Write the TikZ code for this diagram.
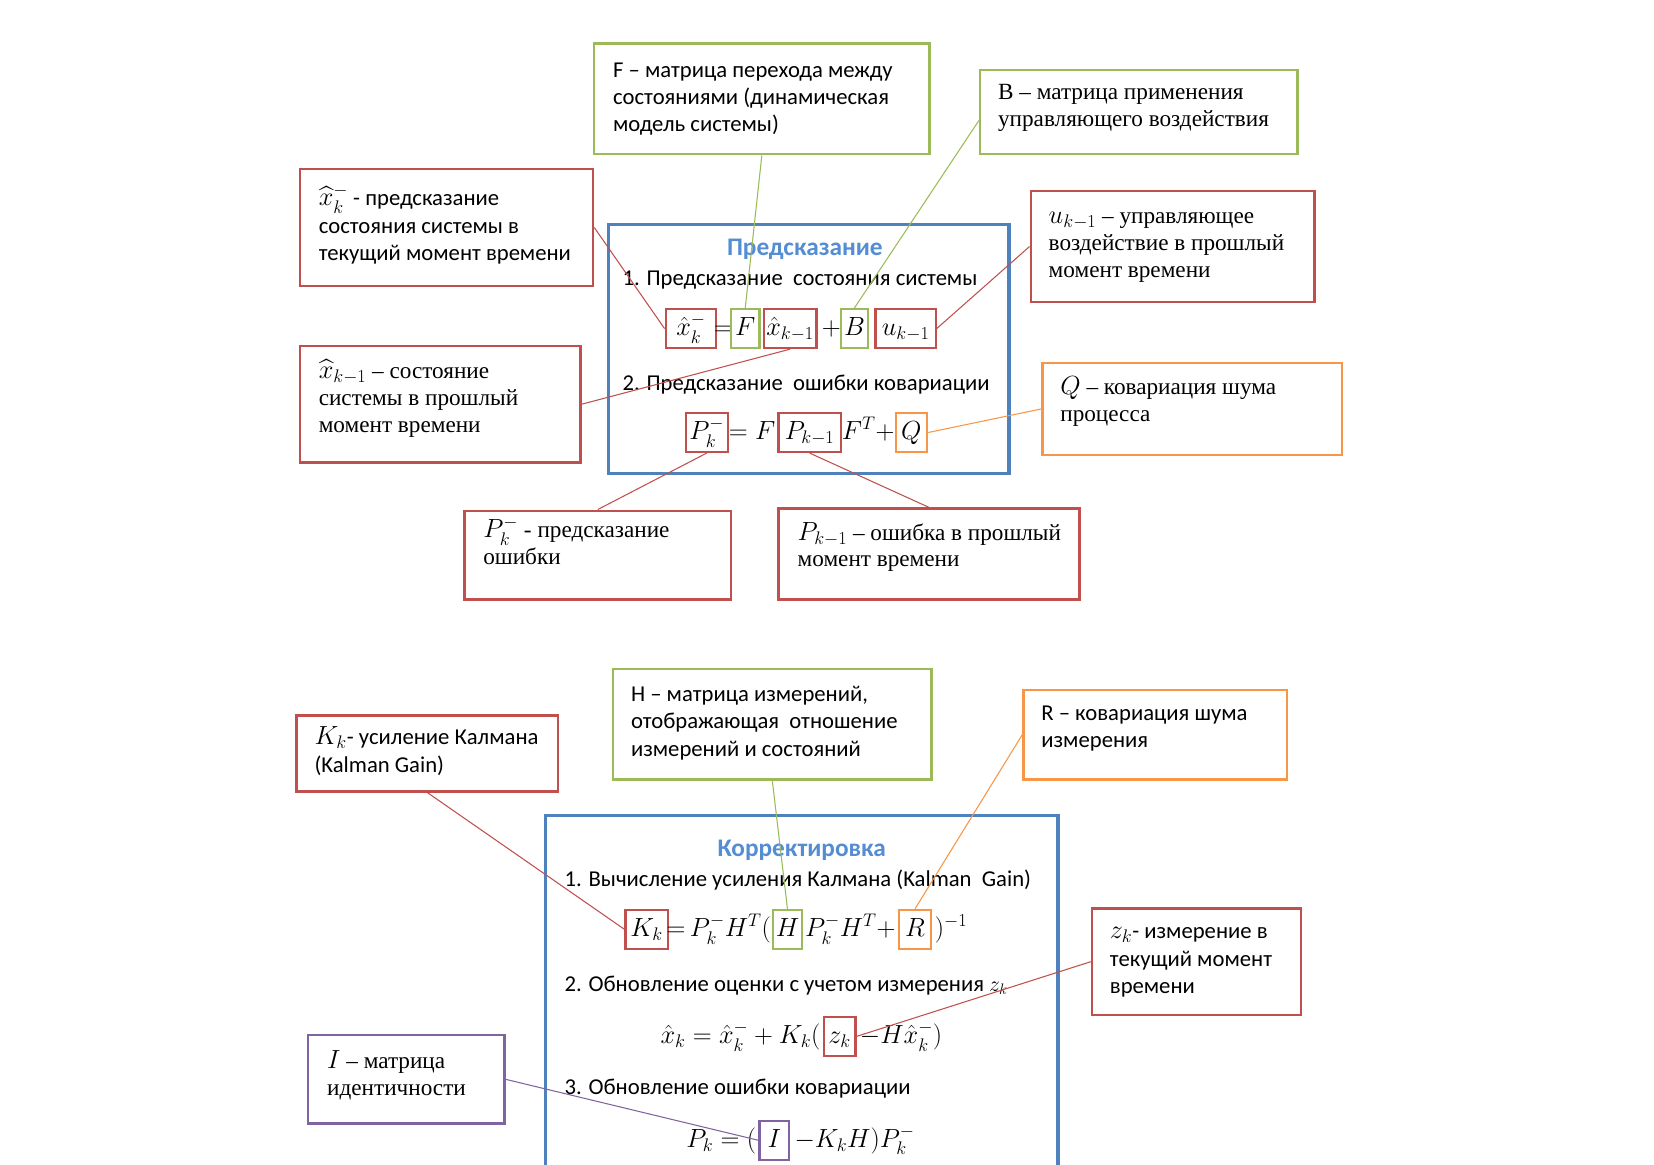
\documentclass[tikz,border=0pt]{standalone}
\usepackage{fontspec}
\setmainfont{Liberation Serif}
\setsansfont{Carlito}
\usepackage{amsmath}
\definecolor{kred}{RGB}{192,80,77}
\definecolor{kgreen}{RGB}{155,187,89}
\definecolor{kblue}{RGB}{79,129,189}
\definecolor{korange}{RGB}{247,150,70}
\definecolor{kpurple}{RGB}{128,100,162}
\definecolor{ktitle}{RGB}{84,141,212}
\newcommand\lblmath[1]{{\fontsize{24}{26}\selectfont$#1$}}
\tikzset{
  lbox/.style={draw=#1, line width=2.4pt, fill=white, inner sep=0pt, anchor=north west},
  mainbox/.style={draw=kblue, line width=3.2pt},
  epart/.style={inner sep=0pt, text height=25pt, text depth=12pt, font=\fontsize{24}{28}\selectfont},
  ebox/.style={epart, draw=#1, line width=2pt},
  conn/.style={draw=#1, line width=1pt},
  sanstxt/.style={anchor=base west, align=left, inner sep=0pt, font=\sffamily\fontsize{21.5}{26}\selectfont},
  seriftxt/.style={anchor=base west, align=left, inner sep=0pt, font=\rmfamily\fontsize{22}{25.5}\selectfont},
  ttl/.style={inner sep=0pt, font=\sffamily\bfseries\fontsize{24}{28}\selectfont, text=ktitle},
}
\begin{document}
\begin{tikzpicture}[x=1pt,y=-1pt]
\useasboundingbox (0,0) rectangle (1568,1104);
\fill[white] (0,0) rectangle (1568,1104);

% ---------- main boxes ----------
\node[mainbox, anchor=north west, minimum width=380pt, minimum height=236pt] (pred) at (575,211) {};
\draw[mainbox] (517,1112) -- (517,773) -- (1003,773) -- (1003,1112);

% ---------- texts inside main boxes ----------
\node[ttl] (tpred) at (763,236) {Предсказание};
\node[sanstxt] (s1) at (590,271) {1. Предсказание\ \ состояния системы};
\node[sanstxt] (s2) at (590,370) {2. Предсказание\ \ ошибки ковариации};
\node[ttl] (tcorr) at (760,806) {Корректировка};
\node[sanstxt] (c1) at (535,840) {1. Вычисление усиления Калмана (Kalman\ \ Gain)};
\node[sanstxt] (c2) at (535,940) {2. Обновление оценки с учетом измерения $z_k$};
\node[sanstxt] (c3) at (535,1038) {3. Обновление ошибки ковариации};

% ---------- equation 1 ----------
\node[ebox=kred, minimum width=48pt] (eXk) at (655,311.5) {$\hat{x}_k^-$};
\node[epart] (e1eq) at (686,311.5) {$=$};
\node[ebox=kgreen, minimum width=27pt] (eF) at (706.5,311.5) {$F$};
\node[ebox=kred, minimum width=50pt] (eXk1) at (749,311.5) {$\hat{x}_{k-1}$};
\node[epart] (e1pl) at (788,311.5) {$+$};
\node[ebox=kgreen, minimum width=26pt] (eB) at (810,311.5) {$B$};
\node[ebox=kred, minimum width=57pt] (eU) at (858.5,311.5) {$u_{k-1}$};

% ---------- equation 2 ----------
\node[ebox=kred, minimum width=40pt] (ePk) at (670,410) {$P_k^-$};
\node[epart] (e2a) at (713,410) {$=F$};
\node[ebox=kred, minimum width=59pt] (ePk1) at (767.5,410) {$P_{k-1}$};
\node[epart] (e2b) at (823,410) {$F^T+$};
\node[ebox=korange, minimum width=30pt] (eQ) at (864,410) {$Q$};

% ---------- equation 3 ----------
\node[ebox=kred, minimum width=40pt] (eK) at (613,881) {$K_k$};
\node[epart, anchor=east] (e3a) at (731,881) {${=}\,P_k^-H^T($};
\node[ebox=kgreen, minimum width=27pt] (eH) at (746.5,881) {$H$};
\node[epart, anchor=west] (e3b) at (763,881) {$P_k^-H^T+$};
\node[ebox=korange, minimum width=31pt] (eR) at (867.5,881) {$R$};
\node[epart, anchor=west] (e3c) at (886,881) {$)^{-1}$};

% ---------- equation 4 ----------
\node[epart, anchor=east] (e4a) at (778,982.5) {$\hat{x}_k=\hat{x}_k^-+K_k($};
\node[ebox=kred, minimum width=30pt] (eZ) at (796,982.5) {$z_k$};
\node[epart, anchor=west] (e4b) at (815,982.5) {$-H\hat{x}_k^-)$};

% ---------- equation 5 ----------
\node[epart, anchor=east] (e5a) at (717,1081) {$P_k=($};
\node[ebox=kpurple, minimum width=28pt] (eI) at (734,1081) {$I$};
\node[epart, anchor=west] (e5b) at (753,1081) {$-K_kH)P_k^-$};

% ---------- label boxes ----------
\node[lbox=kgreen, minimum width=318pt, minimum height=105pt] (lF) at (562,40) {};
\node[lbox=kgreen, minimum width=301pt, minimum height=80pt] (lB) at (928,65) {};
\node[lbox=kred, minimum width=278pt, minimum height=111pt] (lXk) at (283,159) {};
\node[lbox=kred, minimum width=269pt, minimum height=105pt] (lU) at (976,180) {};
\node[lbox=kred, minimum width=266pt, minimum height=110pt] (lXk1) at (283,327) {};
\node[lbox=korange, minimum width=284pt, minimum height=87pt] (lQ) at (987,343) {};
\node[lbox=kred, minimum width=253pt, minimum height=84pt] (lPk) at (439,483) {};
\node[lbox=kred, minimum width=285pt, minimum height=86pt] (lPk1) at (737,481) {};
\node[lbox=kgreen, minimum width=302pt, minimum height=105pt] (lH) at (580,633) {};
\node[lbox=korange, minimum width=250pt, minimum height=85pt] (lR) at (969,653) {};
\node[lbox=kred, minimum width=248pt, minimum height=72pt] (lK) at (280,677) {};
\node[lbox=kred, minimum width=198pt, minimum height=101pt] (lZ) at (1034,860) {};
\node[lbox=kpurple, minimum width=186pt, minimum height=84pt] (lI) at (291,980) {};

% ---------- label texts (anchor = baseline of the last line) ----------
\node[sanstxt] (tF) at (581,125) {F – матрица перехода между\\состояниями (динамическая\\модель системы)};
\node[seriftxt] (tB) at (946,119.5) {В – матрица применения\\управляющего воздействия};
\node[sanstxt] (tXk) at (302,247) {\lblmath{\widehat{x}_k^-} - предсказание\\состояния системы в\\текущий момент времени};
\node[seriftxt] (tU) at (994,263) {\lblmath{u_{k-1}} – управляющее\\воздействие в прошлый\\момент времени};
\node[seriftxt] (tXk1) at (302,410) {\lblmath{\widehat{x}_{k-1}} – состояние\\системы в прошлый\\момент времени};
\node[seriftxt] (tQ) at (1005,399.5) {\lblmath{Q} – ковариация шума\\процесса};
\node[seriftxt] (tPk) at (458,535.5) {\lblmath{P_k^-} - предсказание\\ошибки};
\node[seriftxt] (tPk1) at (756,537.5) {\lblmath{P_{k-1}} – ошибка в прошлый\\момент времени};
\node[sanstxt] (tH) at (598,717) {Н – матрица измерений,\\отображающая\ \ отношение\\измерений и состояний};
\node[sanstxt] (tR) at (987,709) {R – ковариация шума\\измерения};
\node[sanstxt] (tK) at (298,732) {\lblmath{K_k}- усиление Калмана\\(Kalman Gain)};
\node[sanstxt] (tZ) at (1052,942) {\lblmath{z_k}- измерение в\\текущий момент\\времени};
\node[seriftxt] (tI) at (310,1038.5) {\lblmath{I} – матрица\\идентичности};

% ---------- connectors ----------
\draw[conn=kred] (lXk.east) -- (eXk.west);
\draw[conn=kgreen] (lF.south) -- (eF.north);
\draw[conn=kgreen] ([yshift=-8pt]lB.west) -- (eB.north);
\draw[conn=kred] (lU.west) -- (eU.east);
\draw[conn=kred] (lXk1.east) -- (eXk1.south);
\draw[conn=korange] (lQ.west) -- (eQ.east);
\draw[conn=kred] (lPk.north) -- (ePk.south);
\draw[conn=kred] (lPk1.north) -- (ePk1.south);
\draw[conn=kred] (lK.south) -- (eK.west);
\draw[conn=kgreen] (lH.south) -- (eH.north);
\draw[conn=korange] (lR.west) -- (eR.north);
\draw[conn=kred] (lZ.west) -- (eZ.east);
\draw[conn=kpurple] (lI.east) -- (eI.west);
\end{tikzpicture}
\end{document}
